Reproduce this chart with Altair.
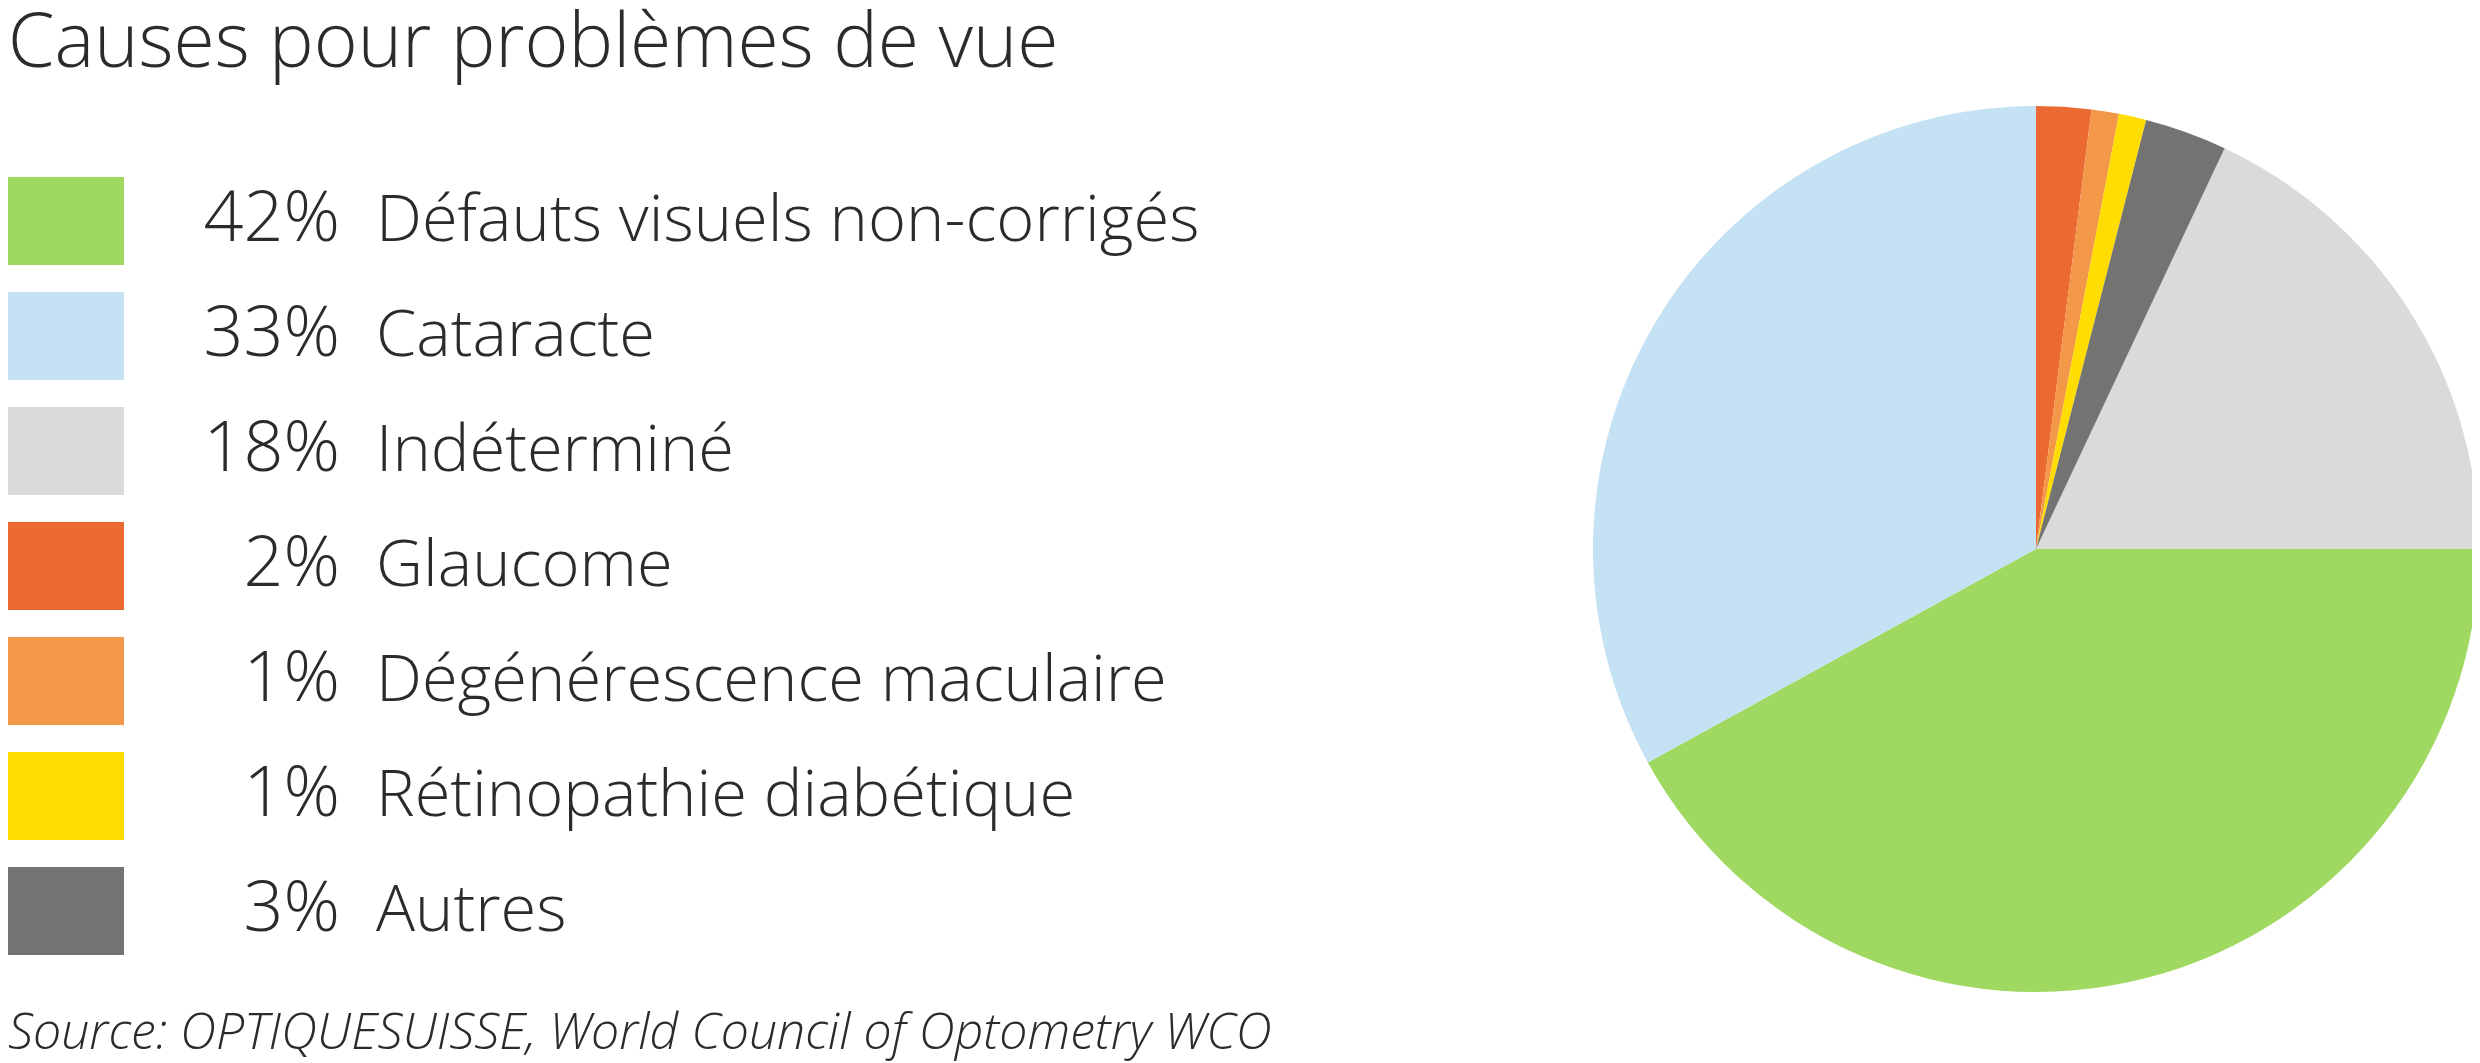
import altair as alt
import pandas as pd

title_text = "Causes pour problèmes de vue"
source_text = "Source: OPTIQUESUISSE, World Council of Optometry WCO"

# legend order (top to bottom)
categories = [
    "Défauts visuels non-corrigés",
    "Cataracte",
    "Indéterminé",
    "Glaucome",
    "Dégénérescence maculaire",
    "Rétinopathie diabétique",
    "Autres",
]
values = [42, 33, 18, 2, 1, 1, 3]
pct_labels = ["42%", "33%", "18%", "2%", "1%", "1%", "3%"]
colors = ["#A0D962", "#C4E2F3", "#D9DAD9", "#EB6A31", "#F39749", "#FFDD00", "#737371"]
# clockwise order of slices in the pie, starting at 12 o'clock
pie_order = [
    "Glaucome",
    "Dégénérescence maculaire",
    "Rétinopathie diabétique",
    "Autres",
    "Indéterminé",
    "Défauts visuels non-corrigés",
    "Cataracte",
]

df = pd.DataFrame({
    "cat": categories,
    "value": values,
    "pct": pct_labels,
    "porder": [pie_order.index(c) for c in categories],
})

W, H = 2464, 1055
FONT = "Open Sans"
TXT = "#2b2b2b"

color_scale = alt.Scale(domain=categories, range=colors)
y_scale = alt.Scale(type="band", domain=categories, range=[169, 947],
                    paddingInner=0.235, paddingOuter=0)

pie = alt.Chart(df).mark_arc(radius=443, x=2028, y=541, stroke=None).encode(
    theta=alt.Theta("value:Q", stack=True),
    color=alt.Color("cat:N", scale=color_scale, legend=None),
    order=alt.Order("porder:Q", sort="ascending"),
)

rects = alt.Chart(df).mark_rect().encode(
    x=alt.value(0), x2=alt.value(116),
    y=alt.Y("cat:N", scale=y_scale, axis=None),
    color=alt.Color("cat:N", scale=color_scale, legend=None),
)

pcts = alt.Chart(df).mark_text(
    align="right", baseline="alphabetic", dy=20, font=FONT, fontSize=70,
    fontWeight=300, color=TXT
).encode(
    x=alt.value(332),
    y=alt.Y("cat:N", scale=y_scale, axis=None),
    text="pct:N",
)

labels = alt.Chart(df).mark_text(
    align="left", baseline="alphabetic", dy=20, font=FONT, fontSize=65,
    fontWeight=300, color=TXT
).encode(
    x=alt.value(368),
    y=alt.Y("cat:N", scale=y_scale, axis=None),
    text="cat:N",
)

title = alt.Chart(pd.DataFrame({"t": [title_text]})).mark_text(
    align="left", baseline="alphabetic", font=FONT, fontSize=75, fontWeight=300, color=TXT
).encode(x=alt.value(0), y=alt.value(59), text="t:N")

source = alt.Chart(pd.DataFrame({"t": [source_text]})).mark_text(
    align="left", baseline="alphabetic", font=FONT, fontSize=50, fontWeight=300,
    fontStyle="italic", color=TXT
).encode(x=alt.value(0), y=alt.value(1041), text="t:N")

chart = alt.layer(pie, rects, pcts, labels, title, source).properties(
    width=W, height=H,
    autosize=alt.AutoSizeParams(type="none"),
    padding=0,
    background="white",
).configure_view(stroke=None)

chart.save("out.html", embed_options={"renderer": "svg", "actions": False})
